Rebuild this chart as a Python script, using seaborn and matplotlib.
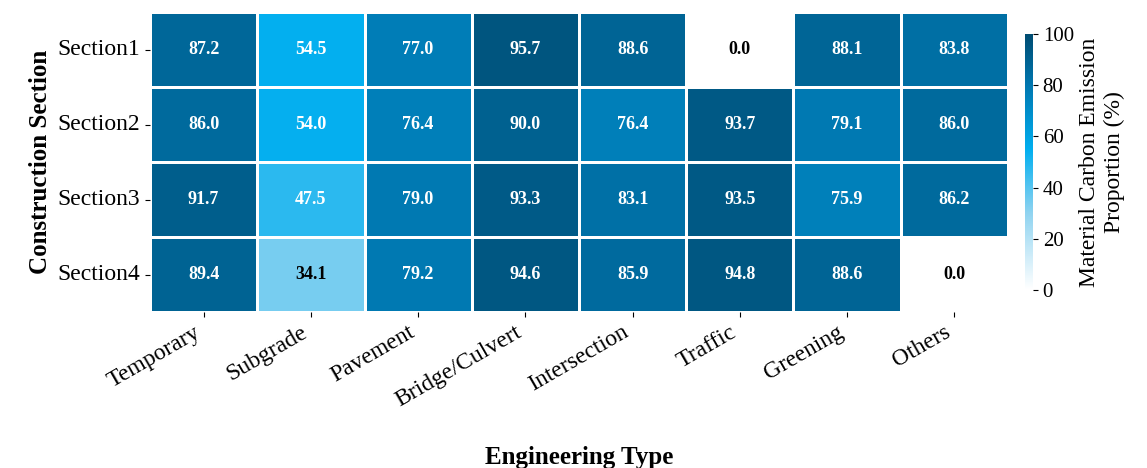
import numpy as np
import pandas as pd
import matplotlib.pyplot as plt
import seaborn as sns
from matplotlib.colors import LinearSegmentedColormap


def make_cmap():
    return LinearSegmentedColormap.from_list(
        'carbon', [(0.0, '#ffffff'), (0.3, '#8fd3f0'), (0.55, '#00aeef'),
                   (0.8, '#0077b0'), (1.0, '#004c72')])


if __name__ == '__main__':
    plt.rcParams['font.family'] = ['Liberation Serif', 'DejaVu Serif']
    cols = ['Temporary', 'Subgrade', 'Pavement', 'Bridge/Culvert',
            'Intersection', 'Traffic', 'Greening', 'Others']
    rows = ['Section1', 'Section2', 'Section3', 'Section4']
    vals = [[87.2, 54.5, 77.0, 95.7, 88.6, 0.0, 88.1, 83.8],
            [86.0, 54.0, 76.4, 90.0, 76.4, 93.7, 79.1, 86.0],
            [91.7, 47.5, 79.0, 93.3, 83.1, 93.5, 75.9, 86.2],
            [89.4, 34.1, 79.2, 94.6, 85.9, 94.8, 88.6, 0.0]]
    df = pd.DataFrame(vals, index=rows, columns=cols)

    fig = plt.figure(figsize=(11.47, 4.68), dpi=100)
    ax = fig.add_axes([150 / 1147, 1 - 312 / 468, 858 / 1147, 300 / 468])
    cax = fig.add_axes([1025 / 1147, 1 - 290 / 468, 8 / 1147, 256 / 468])
    sns.heatmap(df, ax=ax, cbar_ax=cax, cmap=make_cmap(), vmin=0, vmax=100,
                linewidths=0.8, linecolor='white', annot=False,
                cbar_kws={'label': 'Material Carbon Emission\nProportion (%)'})
    for i in range(len(rows)):
        for j in range(len(cols)):
            v = df.iloc[i, j]
            ax.text(j + 0.5, i + 0.5, f'{v:.1f}', ha='center', va='center',
                    fontsize=13, fontweight='bold',
                    color='black' if v < 40 else 'white')
    cax.tick_params(labelsize=15)
    cax.yaxis.label.set_size(17)
    ax.set_xticklabels(cols, rotation=30, ha='right', fontsize=17)
    ax.set_yticklabels(rows, rotation=0, fontsize=17)
    ax.set_xlabel('Engineering Type', fontsize=18, fontweight='bold', labelpad=25)
    ax.set_ylabel('Construction Section', fontsize=18, fontweight='bold')
    plt.savefig('out.png', dpi=100)
